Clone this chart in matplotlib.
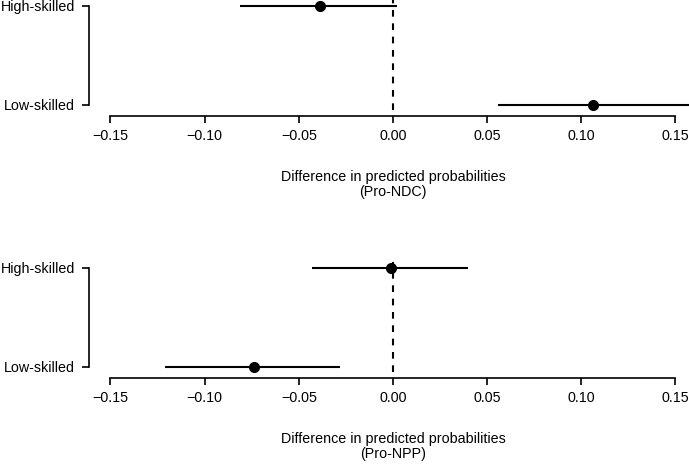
import matplotlib
matplotlib.use("Agg")
import matplotlib.pyplot as plt

plt.rcParams["font.family"] = ["Liberation Sans", "DejaVu Sans"]
plt.rcParams["font.size"] = 10.3

groups = ["Low-skilled", "High-skilled"]
x_ticks = [-0.15, -0.10, -0.05, 0.00, 0.05, 0.10, 0.15]
tick_labels = ["\u22120.15", "\u22120.10", "\u22120.05", "0.00", "0.05", "0.10", "0.15"]

# Pro-NDC panel
ndc_est = [0.106, -0.039]
ndc_lo = [0.056, -0.081]
ndc_hi = [0.157, 0.002]

# Pro-NPP panel
npp_est = [-0.074, -0.001]
npp_lo = [-0.121, -0.043]
npp_hi = [-0.028, 0.040]

W, H = 689, 468
fig = plt.figure(figsize=(W / 100, H / 100), dpi=100)


def panel(top_px, est, lo, hi, label):
    left_px, right_px = 89, 689
    bottom_px = top_px + 116
    ax = fig.add_axes([left_px / W, 1 - bottom_px / H,
                       (right_px - left_px) / W, 116 / H])
    ypos = list(range(len(groups)))
    for y, e, l, h in zip(ypos, est, lo, hi):
        ax.plot([l, h], [y, y], color="black", lw=1.5, solid_capstyle="butt")
        ax.plot(e, y, "o", color="black", ms=7)
    ax.plot([0, 0], [-0.05, 1.06], color="black", lw=1.5, ls=(0, (3.2, 3.2)))
    ax.set_xlim(-0.1614, 0.1572)
    ax.set_ylim(-11 / 99, 1 + 6 / 99)
    ax.set_xticks(x_ticks)
    ax.set_xticklabels(tick_labels)
    ax.set_yticks(ypos)
    ax.set_yticklabels(groups)
    for s in ["top", "right"]:
        ax.spines[s].set_visible(False)
    ax.spines["left"].set_bounds(0, 1)
    ax.spines["bottom"].set_bounds(-0.15, 0.15)
    for s in ["left", "bottom"]:
        ax.spines[s].set_linewidth(1.2)
    ax.tick_params(axis="x", length=5, width=1.2, pad=4)
    ax.tick_params(axis="y", length=5, width=1.2, pad=5)
    fig.text(393 / W, 1 - (bottom_px + 68.5) / H,
             "Difference in predicted probabilities\n" + label,
             ha="center", va="center", linespacing=1.1)
    return ax


panel(0, ndc_est, ndc_lo, ndc_hi, "(Pro-NDC)")
panel(262, npp_est, npp_lo, npp_hi, "(Pro-NPP)")

fig.savefig("out.png", dpi=100)
